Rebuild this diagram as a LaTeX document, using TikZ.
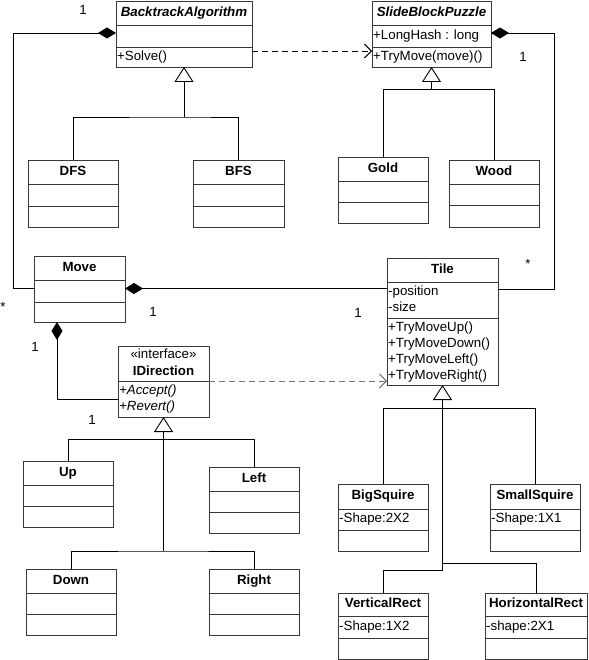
\documentclass[tikz,border=0pt]{standalone}
\usepackage{fontspec}
\setmainfont{Liberation Sans}
\usetikzlibrary{arrows.meta}
\newcommand\fs{\fontsize{13.3}{16}\selectfont}
\tikzset{
  cbox/.style={draw=black!78, fill=white, line width=0.9pt, inner sep=0pt, outer sep=0pt, rectangle},
  cdiv/.style={draw=black!78, line width=0.9pt},
  ttl/.style={inner sep=0pt, font=\fs\bfseries, text height=9.6pt, text depth=2.7pt},
  attr/.style={inner sep=0pt, anchor=west, font=\fs, text height=9.6pt, text depth=2.7pt},
  lbl/.style={inner sep=0pt, font=\fs},
  conn/.style={draw=black, line width=0.9pt},
  comp/.style={conn, {Diamond[length=18pt,width=11pt,fill=black]}-},
  gen/.style={conn, {Triangle[open,length=15pt,width=19pt,fill=white]}-},
  dep/.style={conn, dash pattern=on 6pt off 4pt, -{Straight Barb[length=7pt,width=14pt]}},
  depgray/.style={dep, draw=black!55}
}
\newcommand\umlclass[8]{%
  \node[cbox, anchor=north west, minimum width={#4-#2}, minimum height={#5-#3}] (#1) at (#2,#3) {};
  \draw[cdiv] (#2,#6) -- (#4,#6) (#2,#7) -- (#4,#7);
  \node[ttl] (#1-t) at ({(#2+#4)/2},{(#3+#6)/2}) {#8};
}
\begin{document}
\begin{tikzpicture}[x=1pt,y=-1pt]
\useasboundingbox (0,0) rectangle (588,660);
% classes
\umlclass{bt}{116}{1}{252}{67}{25}{47}{\itshape BacktrackAlgorithm}
\node[attr] (bt-m1) at (117,57) {+Solve()};
\umlclass{sp}{372}{1}{491}{67}{25}{47}{\itshape SlideBlockPuzzle}
\node[attr] (sp-a1) at (373,36) {+LongHash : long};
\node[attr] (sp-m1) at (373,57) {+TryMove(move)()};
\umlclass{dfs}{28}{160}{118}{227}{184}{206}{DFS}
\umlclass{bfs}{193}{160}{284}{227}{184}{206}{BFS}
\umlclass{gold}{338}{157}{428}{223}{181}{202}{Gold}
\umlclass{wood}{449}{160}{539}{227}{184}{205}{Wood}
\umlclass{mv}{34}{256}{125}{322}{280}{302}{Move}
\umlclass{tl}{387}{258}{498}{385}{282}{318}{Tile}
\node[attr] (tl-a1) at (388,291.7) {-position};
\node[attr] (tl-a2) at (388,308.3) {-size};
\node[attr] (tl-m1) at (388,327.7) {+TryMoveUp()};
\node[attr] (tl-m2) at (388,344) {+TryMoveDown()};
\node[attr] (tl-m3) at (388,359.8) {+TryMoveLeft()};
\node[attr] (tl-m4) at (388,375.7) {+TryMoveRight()};
\umlclass{id}{118}{346}{209}{417}{381}{381}{}
\node[lbl, text height=9.6pt, text depth=2.7pt] (id-s) at (163.5,355) {«interface»};
\node[ttl] (id-n) at (163.5,371.7) {IDirection};
\node[attr] (id-m1) at (119,390.7) {\itshape +Accept()};
\node[attr] (id-m2) at (119,406.7) {\itshape +Revert()};
\umlclass{up}{23}{461}{113}{527}{485}{506}{Up}
\umlclass{lf}{209}{467}{299}{533}{491}{512}{Left}
\umlclass{dn}{26}{569}{116}{635}{593}{614}{Down}
\umlclass{rt}{209}{569}{299}{635}{593}{614}{Right}
\umlclass{bs}{338}{484}{428}{551}{509}{530}{BigSquire}
\node[attr] (bs-a1) at (339,519.5) {-Shape:2X2};
\umlclass{ss}{490}{484}{580}{551}{509}{530}{SmallSquire}
\node[attr] (ss-a1) at (491,519.5) {-Shape:1X1};
\umlclass{vr}{338}{593}{428}{659}{616}{638}{VerticalRect}
\node[attr] (vr-a1) at (339,627) {-Shape:1X2};
\umlclass{hr}{485}{593}{587}{659}{616}{638}{HorizontalRect}
\node[attr] (hr-a1) at (486,627) {-shape:2X1};
% connectors
\draw[comp] ([yshift=-32]bt.north west) -- ++(-103,0) |- ([yshift=-32.5]mv.north west);
\draw[dep] ([yshift=-50]bt.north east) -- ([yshift=-50]sp.north west);
\draw[comp] ([yshift=-32]sp.north east) -- ++(63,0) |- ([yshift=-31]tl.north east);
\draw[gen] (bt.south) -- ++(0,50) coordinate (btj);
\draw[conn] (dfs.north) |- (btj) -| (bfs.north);
\draw[gen] (sp.south) -- ++(0,22.3) coordinate (spj);
\draw[conn] (gold.north) |- (spj) -| (wood.north);
\draw[comp] ([yshift=-32.5]mv.north east) coordinate (mvr) -- (mvr -| tl.west);
\draw[comp] ([xshift=23]mv.south west) |- ([yshift=-53]id.north west);
\draw[depgray] ([yshift=-35]id.north east) coordinate (idr) -- (idr -| tl.west);
\draw[gen] (id.south) -- ++(0,134) coordinate (idj2);
\coordinate (idj1) at ([yshift=-22.3]id.south);
\draw[conn] (up.north) |- (idj1) -| (lf.north);
\draw[conn] (dn.north) |- (idj2) -| (rt.north);
\draw[gen] (tl.south) -- ++(0,185.7) coordinate (tj3);
\coordinate (tj1) at ([yshift=-23.3]tl.south);
\coordinate (tj2) at ([yshift=-178.3]tl.south);
\draw[conn] (bs.north) |- (tj1) -| (ss.north);
\draw[conn] (tj2) -| (hr.north);
\draw[conn] (vr.north) |- (tj3);
% multiplicities
\node[lbl] (l1) at (83,10) {1};
\node[lbl] (l2) at (523,57) {1};
\node[lbl] (l3) at (528,264) {*};
\node[lbl] (l4) at (3,307) {*};
\node[lbl] (l5) at (153,312) {1};
\node[lbl] (l6) at (358,313) {1};
\node[lbl] (l7) at (35,347) {1};
\node[lbl] (l8) at (92,420) {1};
\end{tikzpicture}
\end{document}
